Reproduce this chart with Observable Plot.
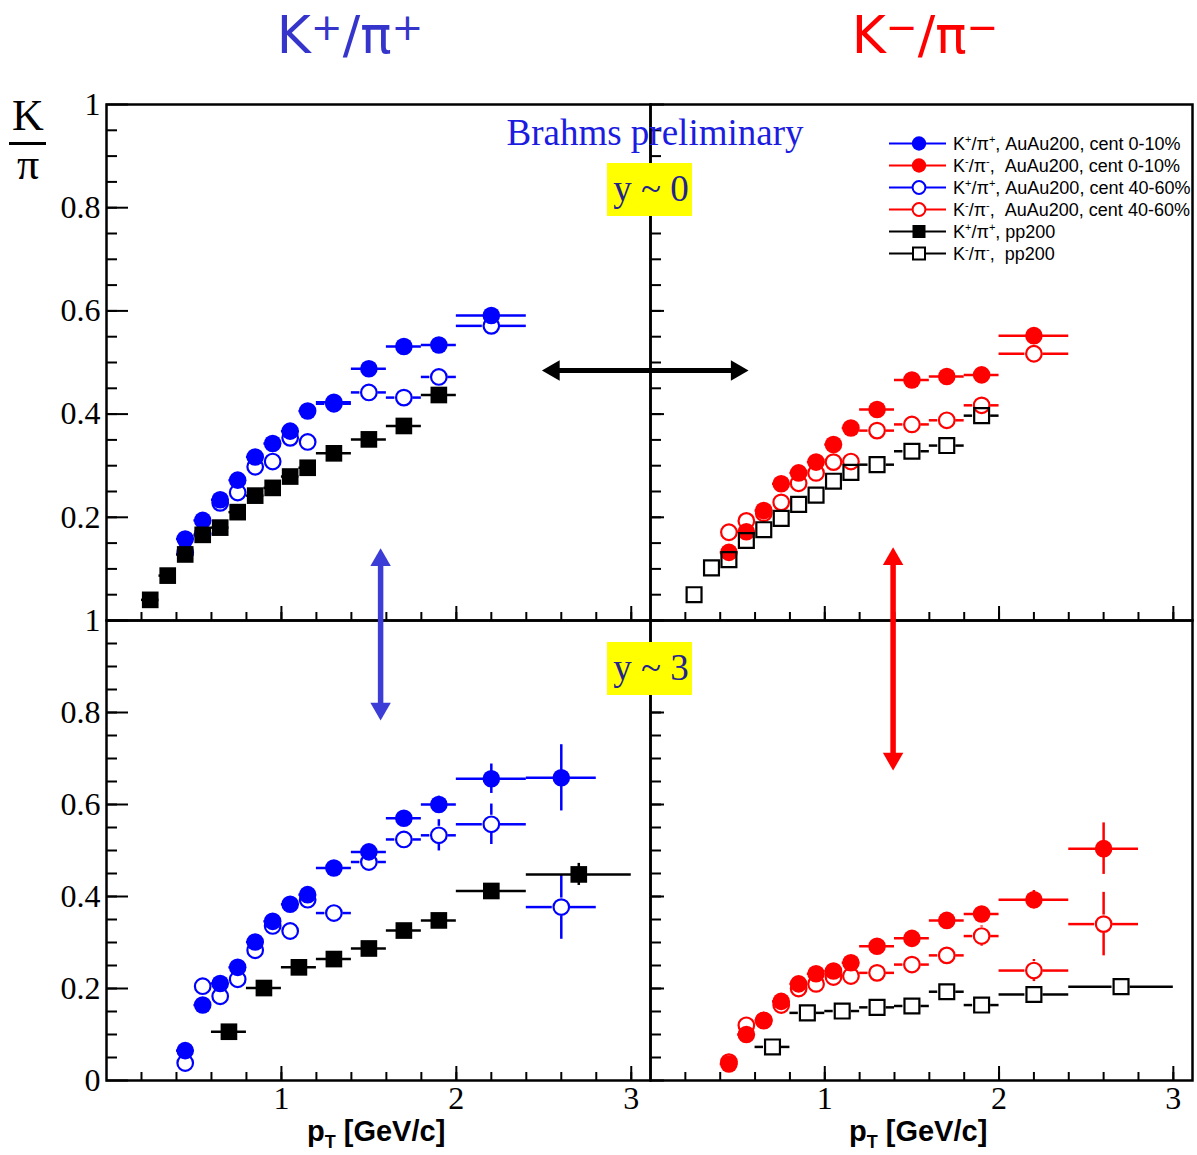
<!DOCTYPE html>
<html>
<head>
<meta charset="utf-8">
<script src="https://cdn.jsdelivr.net/npm/d3@7"></script>
<script src="https://cdn.jsdelivr.net/npm/@observablehq/plot@0.6"></script>
<style>
  body { margin: 0; background: #fff; }
  #fig { position: relative; width: 1197px; height: 1155px; overflow: hidden; background: #fff; }
</style>
</head>
<body>
<div id="fig"></div>
<script>
// ---------- K/pi ratios vs pT, BRAHMS AuAu200 and pp200 ----------

// y ~ 0, pp200 reference
const ptPP0      = [0.25, 0.35, 0.45, 0.55, 0.65, 0.75, 0.85, 0.95, 1.05, 1.15, 1.3, 1.5, 1.7, 1.9];
const ptErrPP0   = [0.05, 0.05, 0.05, 0.05, 0.05, 0.05, 0.05, 0.05, 0.05, 0.05, 0.1, 0.1, 0.1, 0.1];
const kPlusPP0   = [0.040, 0.087, 0.128, 0.166, 0.180, 0.210, 0.242, 0.257, 0.279, 0.296, 0.324, 0.351, 0.377, 0.437];
const kMinusPP0  = [0.050, 0.102, 0.118, 0.155, 0.176, 0.198, 0.225, 0.243, 0.270, 0.287, 0.302, 0.328, 0.339, 0.397];

// y ~ 0, AuAu200
const ptAA0          = [0.45, 0.55, 0.65, 0.75, 0.85, 0.95, 1.05, 1.15, 1.3, 1.5, 1.7, 1.9, 2.2];
const ptErrAA0       = [0.05, 0.05, 0.05, 0.05, 0.05, 0.05, 0.05, 0.05, 0.1, 0.1, 0.1, 0.1, 0.2];
const kPlusCent0     = [0.158, 0.194, 0.234, 0.272, 0.317, 0.343, 0.367, 0.406, 0.423, 0.488, 0.531, 0.534, 0.591];
const kPlusCent0Err  = [0, 0, 0, 0, 0, 0, 0, 0, 0, 0, 0, 0, 0.012];
const kPlusPeri0     = [0.132, 0.168, 0.228, 0.248, 0.298, 0.308, 0.354, 0.346, 0.420, 0.442, 0.432, 0.472, 0.571];
const kPlusPeri0Err  = [0, 0, 0, 0, 0, 0, 0, 0, 0, 0, 0, 0.012, 0.018];
const kMinusCent0    = [0.132, 0.172, 0.213, 0.265, 0.286, 0.307, 0.341, 0.373, 0.409, 0.466, 0.473, 0.476, 0.552];
const kMinusCent0Err = [0, 0, 0, 0, 0, 0, 0, 0, 0, 0, 0, 0, 0.012];
const kMinusPeri0    = [0.171, 0.193, 0.208, 0.229, 0.266, 0.286, 0.307, 0.308, 0.368, 0.380, 0.388, 0.417, 0.517];
const kMinusPeri0Err = [0, 0, 0, 0, 0, 0, 0, 0, 0, 0, 0, 0.010, 0.018];

// y ~ 3, AuAu200
const ptAA3          = [0.45, 0.55, 0.65, 0.75, 0.85, 0.95, 1.05, 1.15, 1.3, 1.5, 1.7, 1.9, 2.2, 2.6];
const ptErrAA3       = [0.05, 0.05, 0.05, 0.05, 0.05, 0.05, 0.05, 0.05, 0.1, 0.1, 0.1, 0.1, 0.2, 0.2];
const kPlusCent3     = [0.065, 0.164, 0.211, 0.246, 0.301, 0.346, 0.383, 0.404, 0.462, 0.497, 0.570, 0.600, 0.656, 0.658];
const kPlusCent3Err  = [0, 0, 0, 0, 0, 0, 0, 0, 0, 0.008, 0.014, 0.018, 0.032, 0.072];
const kPlusPeri3     = [0.038, 0.205, 0.183, 0.220, 0.283, 0.336, 0.325, 0.393, 0.364, 0.475, 0.524, 0.533, 0.557, 0.377];
const kPlusPeri3Err  = [0, 0, 0, 0, 0, 0, 0, 0, 0, 0.010, 0.016, 0.034, 0.044, 0.070];
const kMinusCent3    = [0.036, 0.100, 0.131, 0.172, 0.210, 0.232, 0.238, 0.256, 0.292, 0.309, 0.348, 0.362, 0.393, 0.504];
const kMinusCent3Err = [0, 0, 0, 0, 0, 0, 0, 0, 0, 0, 0.008, 0.012, 0.020, 0.056];
const kMinusPeri3    = [0.040, 0.120, 0.130, 0.164, 0.200, 0.210, 0.225, 0.227, 0.234, 0.252, 0.272, 0.314, 0.239, 0.340];
const kMinusPeri3Err = [0, 0, 0, 0, 0, 0, 0, 0, 0, 0, 0.010, 0.022, 0.024, 0.069];

// y ~ 3, pp200 reference
const ptPP3        = [0.7, 0.9, 1.1, 1.3, 1.5, 1.7, 1.9, 2.2, 2.7];
const ptErrPP3     = [0.1, 0.1, 0.1, 0.1, 0.1, 0.1, 0.1, 0.2, 0.3];
const kPlusPP3     = [0.106, 0.201, 0.246, 0.264, 0.287, 0.326, 0.348, 0.412, 0.448];
const kPlusPP3Err  = [0, 0, 0, 0, 0, 0, 0, 0, 0.024];
const kMinusPP3    = [0.073, 0.147, 0.151, 0.159, 0.162, 0.193, 0.164, 0.187, 0.204];

// axis ticks and labels
const xTicks = [1, 2, 3];
const yTicks = [0, 0.2, 0.4, 0.6, 0.8, 1];
const yLabelsTop = [0.2, 0.4, 0.6, 0.8, 1];
const yLabelsBottom = [0, 0.2, 0.4, 0.6, 0.8, 1];
const xMinorTicks = d3.range(1, 16).map(i => i / 5);
const yMinorTicks = d3.range(1, 20).map(i => i / 20);
const X_DOMAIN = [0, 3.11];

// legend
const legendLabels = [
  [["K"], ["+", "sup"], ["/π"], ["+", "sup"], [", AuAu200, cent 0-10%"]],
  [["K"], ["-", "sup"], ["/π"], ["-", "sup"], [",  AuAu200, cent 0-10%"]],
  [["K"], ["+", "sup"], ["/π"], ["+", "sup"], [", AuAu200, cent 40-60%"]],
  [["K"], ["-", "sup"], ["/π"], ["-", "sup"], [",  AuAu200, cent 40-60%"]],
  [["K"], ["+", "sup"], ["/π"], ["+", "sup"], [", pp200"]],
  [["K"], ["-", "sup"], ["/π"], ["-", "sup"], [",  pp200"]]
];

const BLUE = "#0000ff", RED = "#ff0000", BLACK = "#000000";
const legendStyles = [
  {color: BLUE, shape: "circle", filled: true},
  {color: RED, shape: "circle", filled: true},
  {color: BLUE, shape: "circle", filled: false},
  {color: RED, shape: "circle", filled: false},
  {color: BLACK, shape: "square", filled: true},
  {color: BLACK, shape: "square", filled: false}
];

// ---------- helpers ----------
const rows = (pt, ptErr, val, valErr) =>
  pt.map((x, i) => ({x, xe: ptErr[i], y: val[i], ye: valErr ? valErr[i] : 0}));

const BAR_W = 2.5;

function errorBars(s, pxX, pxY) {
  const {data, color, hollow, gap} = s;
  const o = {stroke: color, strokeWidth: BAR_W};
  if (!hollow) {
    return [
      Plot.ruleY(data.filter(d => d.xe > 0), {y: "y", x1: d => d.x - d.xe, x2: d => d.x + d.xe, ...o}),
      Plot.ruleX(data.filter(d => d.ye > 0), {x: "x", y1: d => d.y + d.ye, y2: d => d.y - d.ye, ...o})
    ];
  }
  // hollow markers: bars stop at the marker outline
  const hx = data.filter(d => d.xe * pxX > gap + 1);
  const hy = data.filter(d => d.ye * pxY > gap + 1);
  return [
    Plot.ruleY(hx, {y: "y", x1: d => d.x - d.xe, x2: "x", insetRight: gap, ...o}),
    Plot.ruleY(hx, {y: "y", x1: "x", x2: d => d.x + d.xe, insetLeft: gap, ...o}),
    Plot.ruleX(hy, {x: "x", y1: d => d.y + d.ye, y2: "y", insetBottom: gap, ...o}),
    Plot.ruleX(hy, {x: "x", y1: "y", y2: d => d.y - d.ye, insetTop: gap, ...o})
  ];
}

function markers(s) {
  const {data, color, hollow, shape} = s;
  if (shape === "square") {
    return hollow
      ? Plot.dot(data, {x: "x", y: "y", symbol: "square", r: 8.4, fill: "none", stroke: color, strokeWidth: 2.2})
      : Plot.dot(data, {x: "x", y: "y", symbol: "square", r: 9.4, fill: color, stroke: "none"});
  }
  return hollow
    ? Plot.dot(data, {x: "x", y: "y", r: 7.8, fill: "none", stroke: color, strokeWidth: 2.2})
    : Plot.dot(data, {x: "x", y: "y", r: 8.8, fill: color, stroke: "none"});
}

// filled-triangle head arrow made of a shaft rule plus two triangle dots
function hArrow(a) {
  const o = {fill: a.color, stroke: "none", symbol: "triangle", r: 7.6};
  return [
    Plot.ruleY([a], {y: "y", x1: "x1", x2: "x2", insetLeft: 12, insetRight: 12, stroke: a.color, strokeWidth: 5}),
    Plot.dot([a], {x: "x2", y: "y", rotate: 90, dx: -11.7, ...o}),
    Plot.dot([a], {x: "x1", y: "y", rotate: -90, dx: 11.7, ...o})
  ];
}
function vArrow(a) {
  const o = {fill: a.color, stroke: "none", symbol: "triangle", r: 7.6};
  return [
    Plot.ruleX([a], {x: "x", y1: "y2", y2: "y1", insetTop: 12, insetBottom: 12, stroke: a.color, strokeWidth: 5.5}),
    Plot.dot([a], {x: "x", y: "y2", rotate: 0, dy: 11.7, ...o}),
    Plot.dot([a], {x: "x", y: "y1", rotate: 180, dy: -11.7, ...o})
  ];
}

// annotation arrows (data coordinates of the panel they are drawn in)
const arrowMid = {x1: 2.49, x2: 3.67, y: 0.4845, color: BLACK};
const arrowBlue = {x: 1.567, y1: 0.783, y2: 1.157, color: "#3c3cd6"};
const arrowRed = {x: 1.392, y1: 0.674, y2: 1.159, color: "#ff0000"};

const fig = document.getElementById("fig");

function panel({left, top, width, height, xLabels, yLabels, yMajorLen, yMinorLen, series, extra = []}) {
  const pxX = width / (X_DOMAIN[1] - X_DOMAIN[0]);
  const pxY = height;
  const marks = [];
  for (const s of series) marks.push(...errorBars(s, pxX, pxY));
  for (const s of series) marks.push(markers(s));
  const t = {stroke: BLACK, strokeWidth: 2};
  marks.push(Plot.tickY(yMinorTicks, {y: d => d, insetRight: width - yMinorLen, ...t}));
  marks.push(Plot.tickY(yTicks, {y: d => d, insetRight: width - yMajorLen, ...t}));
  marks.push(Plot.tickX(xMinorTicks, {x: d => d, insetTop: height - 8, ...t}));
  marks.push(Plot.tickX(xTicks, {x: d => d, insetTop: height - 14, ...t}));
  marks.push(Plot.frame({stroke: BLACK, strokeWidth: 2.5}));
  if (yLabels) marks.push(Plot.axisY({ticks: yLabels, anchor: "left", tickSize: 0, tickPadding: 6, tickFormat: d => String(d), label: null}));
  if (xLabels) marks.push(Plot.axisX({ticks: xTicks, anchor: "bottom", tickSize: 0, tickPadding: 6, tickFormat: d => String(d), label: null}));
  marks.push(...extra);
  const svg = Plot.plot({
    width, height,
    marginTop: 0, marginRight: 0, marginBottom: 0, marginLeft: 0,
    x: {domain: X_DOMAIN, axis: xLabels ? undefined : null},
    y: {domain: [0, 1], axis: yLabels ? undefined : null},
    style: {overflow: "visible", fontFamily: "'Liberation Serif', serif", fontSize: "32px", background: "transparent", color: "black"},
    marks
  });
  svg.style.position = "absolute";
  svg.style.left = left + "px";
  svg.style.top = top + "px";
  fig.appendChild(svg);
}

const S = (data, color, shape, hollow) => ({data, color, shape, hollow, gap: 9});

// top-left: K+/pi+, y ~ 0
panel({
  left: 106, top: 104, width: 544, height: 516, xLabels: false, yLabels: yLabelsTop, yMajorLen: 22, yMinorLen: 11,
  series: [
    S(rows(ptAA0, ptErrAA0, kPlusCent0, kPlusCent0Err), BLUE, "circle", false),
    S(rows(ptAA0, ptErrAA0, kPlusPeri0, kPlusPeri0Err), BLUE, "circle", true),
    S(rows(ptPP0, ptErrPP0, kPlusPP0), BLACK, "square", false)
  ],
  extra: hArrow(arrowMid)
});

// top-right: K-/pi-, y ~ 0
panel({
  left: 650, top: 104, width: 542, height: 516, xLabels: false, yLabels: null, yMajorLen: 14, yMinorLen: 11,
  series: [
    S(rows(ptAA0, ptErrAA0, kMinusCent0, kMinusCent0Err), RED, "circle", false),
    S(rows(ptAA0, ptErrAA0, kMinusPeri0, kMinusPeri0Err), RED, "circle", true),
    S(rows(ptPP0, ptErrPP0, kMinusPP0), BLACK, "square", true)
  ]
});

// bottom-left: K+/pi+, y ~ 3
panel({
  left: 106, top: 620, width: 544, height: 460, xLabels: true, yLabels: yLabelsBottom, yMajorLen: 22, yMinorLen: 11,
  series: [
    S(rows(ptAA3, ptErrAA3, kPlusCent3, kPlusCent3Err), BLUE, "circle", false),
    S(rows(ptAA3, ptErrAA3, kPlusPeri3, kPlusPeri3Err), BLUE, "circle", true),
    S(rows(ptPP3, ptErrPP3, kPlusPP3, kPlusPP3Err), BLACK, "square", false)
  ],
  extra: vArrow(arrowBlue)
});

// bottom-right: K-/pi-, y ~ 3
panel({
  left: 650, top: 620, width: 542, height: 460, xLabels: true, yLabels: null, yMajorLen: 14, yMinorLen: 11,
  series: [
    S(rows(ptAA3, ptErrAA3, kMinusCent3, kMinusCent3Err), RED, "circle", false),
    S(rows(ptAA3, ptErrAA3, kMinusPeri3, kMinusPeri3Err), RED, "circle", true),
    S(rows(ptPP3, ptErrPP3, kMinusPP3), BLACK, "square", true)
  ],
  extra: vArrow(arrowRed)
});

// ---------- titles, labels, legend ----------
const ov = d3.create("svg")
  .attr("width", 1197).attr("height", 1155)
  .style("position", "absolute").style("left", "0px").style("top", "0px")
  .style("overflow", "visible").style("pointer-events", "none");

// text with super/subscript tspans; dy shifts are undone after each script run
function richText(g, x, y, parts, o) {
  const t = g.append("text").attr("x", x).attr("y", y)
    .attr("font-family", o.family).attr("font-size", o.size).attr("fill", o.color)
    .attr("font-weight", o.weight || "normal").attr("text-anchor", o.anchor || "start")
    .style("white-space", "pre");
  let cur = 0;
  for (const [s, kind] of parts) {
    const ts = t.append("tspan").text(s);
    const target = kind === "sup" ? -o.shift : kind === "sub" ? o.shift : 0;
    if (kind === "sup" || kind === "sub") ts.attr("font-size", o.small);
    if (target !== cur) { ts.attr("dy", target - cur); cur = target; }
  }
  return t;
}

// panel titles
richText(ov, 350, 53, [["K"], ["+", "sup"], ["/π"], ["+", "sup"]],
  {family: "'DejaVu Sans', sans-serif", size: 52, small: 38, shift: 13, color: "#3535cc", anchor: "middle"});
richText(ov, 925, 53, [["K"], ["−", "sup"], ["/π"], ["−", "sup"]],
  {family: "'DejaVu Sans', sans-serif", size: 52, small: 38, shift: 13, color: "#ff0000", anchor: "middle"});

// y-axis label K/pi as a stacked fraction
const serif = "'Liberation Serif', serif";
ov.append("text").attr("x", 28).attr("y", 130).attr("text-anchor", "middle")
  .attr("font-family", serif).attr("font-size", 44).text("K");
ov.append("line").attr("x1", 9).attr("x2", 46).attr("y1", 143.5).attr("y2", 143.5)
  .attr("stroke", "black").attr("stroke-width", 3);
ov.append("text").attr("x", 28).attr("y", 179).attr("text-anchor", "middle")
  .attr("font-family", serif).attr("font-size", 44).text("π");

// x-axis labels
for (const x0 of [307, 849]) {
  richText(ov, x0, 1141, [["p"], ["T", "sub"], [" [GeV/c]"]],
    {family: "'Liberation Sans', sans-serif", size: 29, small: 18, shift: 7, color: "black", weight: "bold"});
}

// preliminary tag and rapidity boxes
ov.append("text").attr("x", 655).attr("y", 145).attr("text-anchor", "middle")
  .attr("font-family", serif).attr("font-size", 37).attr("fill", "#1c1ce0")
  .text("Brahms preliminary");
for (const [top, lab] of [[163, "y ~ 0"], [642, "y ~ 3"]]) {
  ov.append("rect").attr("x", 607).attr("y", top).attr("width", 85).attr("height", 53).attr("fill", "#ffff00");
  ov.append("text").attr("x", 651).attr("y", top + 38).attr("text-anchor", "middle")
    .attr("font-family", serif).attr("font-size", 37).attr("fill", "#232390")
    .style("white-space", "pre").text(lab);
}

// legend
legendLabels.forEach((parts, i) => {
  const st = legendStyles[i];
  const cy = 143.5 + i * 22;
  const g = ov.append("g");
  g.append("line").attr("x1", 889).attr("x2", 946).attr("y1", cy).attr("y2", cy)
    .attr("stroke", st.color).attr("stroke-width", 2);
  if (st.shape === "circle") {
    g.append("circle").attr("cx", 919).attr("cy", cy).attr("r", st.filled ? 7.2 : 6.4)
      .attr("fill", st.filled ? st.color : "white").attr("stroke", st.filled ? "none" : st.color).attr("stroke-width", 2);
  } else {
    const s = st.filled ? 13 : 12;
    g.append("rect").attr("x", 919 - s / 2).attr("y", cy - s / 2).attr("width", s).attr("height", s)
      .attr("fill", st.filled ? st.color : "white").attr("stroke", st.filled ? "none" : st.color).attr("stroke-width", 2);
  }
  richText(g, 953, cy + 6.5, parts,
    {family: "'Liberation Sans', sans-serif", size: 18, small: 11, shift: 7, color: "black"});
});

fig.appendChild(ov.node());
</script>
</body>
</html>
